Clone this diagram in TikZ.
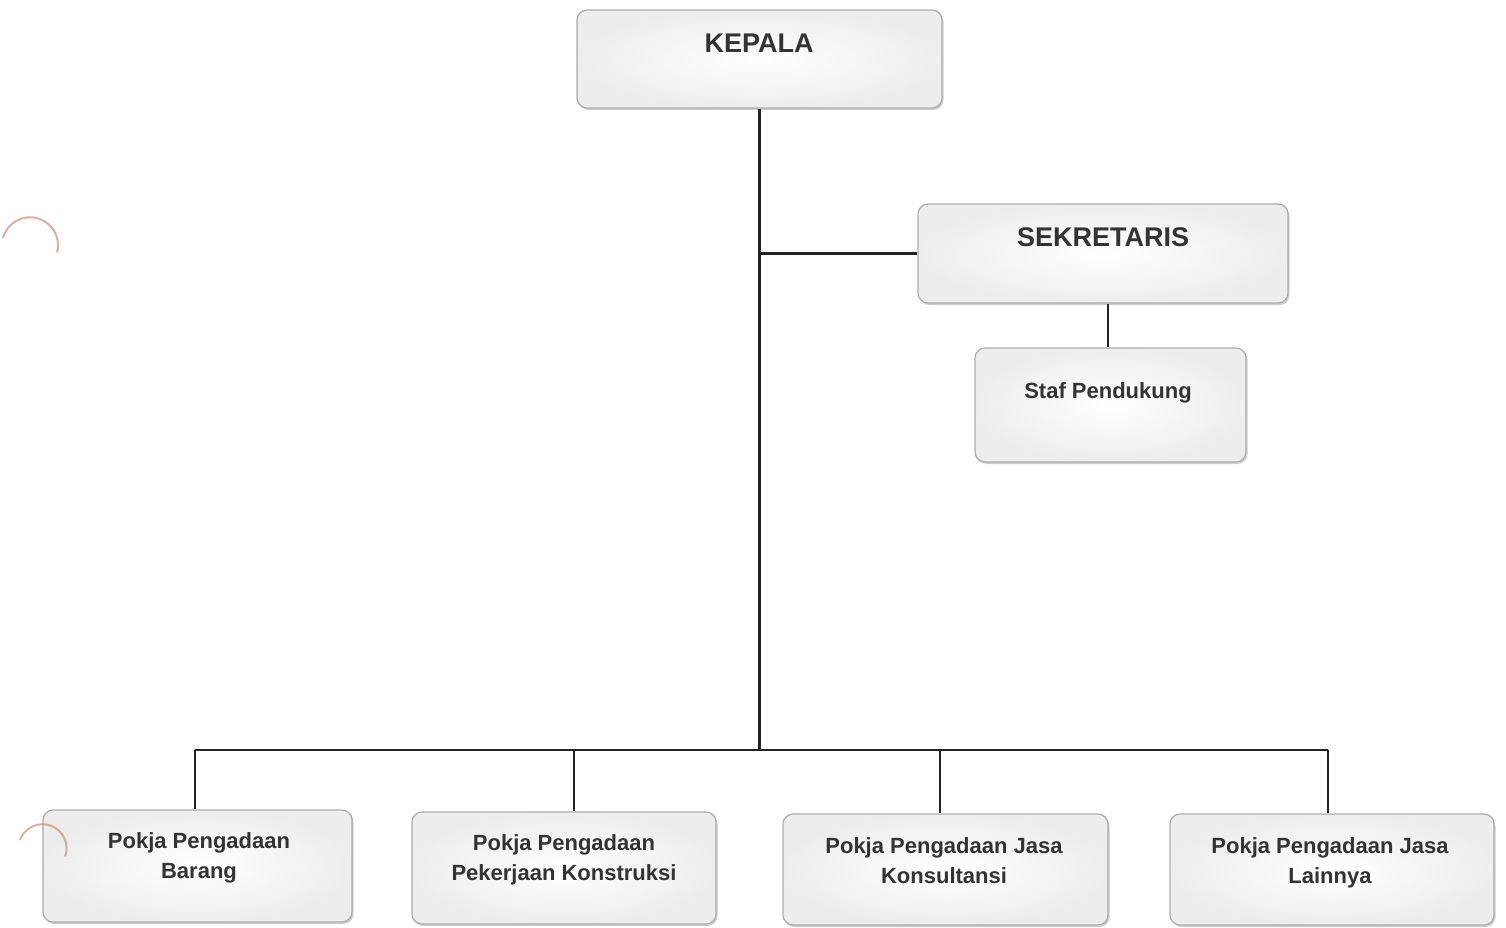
\documentclass[tikz,border=0pt]{standalone}
\usepackage{fontspec}
\setmainfont{Liberation Sans}
\usetikzlibrary{shadows}
\definecolor{txtc}{HTML}{333333}
\definecolor{linec}{HTML}{222222}
\definecolor{punch}{HTML}{D9805A}
\tikzset{
  orgbox/.style={draw=gray!65, line width=1.2pt, rounded corners=10pt,
    inner color=white, outer color=gray!14,
    drop shadow={shadow xshift=1.5pt, shadow yshift=-2pt, fill=gray!55, opacity=0.7}},
  bigtxt/.style={font=\fontsize{27}{32}\selectfont\bfseries, text=txtc},
  smalltxt/.style={font=\fontsize{22}{30}\selectfont\bfseries, text=txtc, align=center},
  conn/.style={draw=linec, line width=2.4pt}
}
\begin{document}
\begin{tikzpicture}[x=1pt,y=-1pt]
\useasboundingbox (0,0) rectangle (1506,927);
% boxes
\node[orgbox, minimum width=365pt, minimum height=98pt] (kepala) at (759.5,59) {};
\node[orgbox, minimum width=370pt, minimum height=99pt] (sek) at (1103,253.5) {};
\node[orgbox, minimum width=271pt, minimum height=114pt] (staf) at (1110.5,405) {};
\node[orgbox, minimum width=309pt, minimum height=112pt] (barang) at (197.5,866) {};
\node[orgbox, minimum width=304pt, minimum height=112pt] (konstr) at (564,868) {};
\node[orgbox, minimum width=325pt, minimum height=111pt] (konsul) at (945.5,869.5) {};
\node[orgbox, minimum width=324pt, minimum height=111pt] (lain) at (1332,869.5) {};
% texts
\node[bigtxt] (tkepala) at (759,43) {KEPALA};
\node[bigtxt] (tsek) at (1103,237) {SEKRETARIS};
\node[smalltxt] (tstaf) at (1108,393) {Staf Pendukung};
\node[smalltxt] (tbarang) at (199,858) {Pokja Pengadaan\\Barang};
\node[smalltxt] (tkonstr) at (564,860) {Pokja Pengadaan\\Pekerjaan Konstruksi};
\node[smalltxt] (tkonsul) at (944,861) {Pokja Pengadaan Jasa\\Konsultansi};
\node[smalltxt] (tlain) at (1330,863) {Pokja Pengadaan Jasa\\Lainnya};
% connectors
\coordinate (busL) at (195,750);
\coordinate (busR) at (1328,750);
\draw[conn] (kepala.south) -- (kepala.south |- busL);
\draw[conn] (kepala.south |- sek.west) -- (sek.west);
\draw[conn] (staf.north -| 1108,0) -- (sek.south -| 1108,0);
\draw[conn] (busL) -- (busR);
\draw[conn] (busL) -- (busL |- barang.north);
\draw[conn] (574,750) -- (konstr.north -| 574,0);
\draw[conn] (940,750) -- (konsul.north -| 940,0);
\draw[conn] (busR) -- (busR |- lain.north);
% scan marks (punch holes)
\draw[punch!70!gray, line width=2pt, opacity=0.6] (3,238) arc[start angle=-165, end angle=15, radius=28];
\draw[punch!70!gray, line width=2pt, opacity=0.6] (20,840) arc[start angle=-160, end angle=20, radius=24];
\end{tikzpicture}
\end{document}
